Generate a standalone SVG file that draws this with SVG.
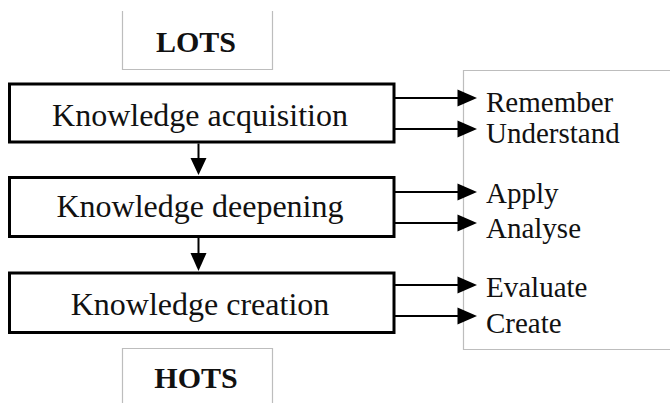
<svg xmlns="http://www.w3.org/2000/svg" width="670" height="403" viewBox="0 0 670 403" font-family="Liberation Serif, serif">
<style>
.frame{fill:none;stroke:#bdbdbd;stroke-width:1.2}
.box{fill:#fff;stroke:#000;stroke-width:3}
.conn{stroke:#000;stroke-width:2;fill:none}
</style>
<g id="lots">
<path class="frame" d="M122.5,11 V69.5 H272.5 V11"/>
<text x="196" y="52" style="font-family:'Liberation Serif',serif;font-size:30px;font-weight:bold;text-anchor:middle;fill:#111">LOTS</text>
</g>
<g id="hots">
<path class="frame" d="M122.5,403 V348.5 H272.5 V403"/>
<text x="196" y="388" style="font-family:'Liberation Serif',serif;font-size:30px;font-weight:bold;text-anchor:middle;fill:#111">HOTS</text>
</g>
<g id="levels">
<path class="frame" d="M670,70.5 H463.5 V349.5 H670"/>
<text x="486" y="112" style="font-family:'Liberation Serif',serif;font-size:29px;fill:#111">Remember</text>
<text x="486" y="143" style="font-family:'Liberation Serif',serif;font-size:29px;fill:#111">Understand</text>
<text x="486" y="203" style="font-family:'Liberation Serif',serif;font-size:29px;fill:#111">Apply</text>
<text x="486" y="238" style="font-family:'Liberation Serif',serif;font-size:29px;fill:#111">Analyse</text>
<text x="486" y="297" style="font-family:'Liberation Serif',serif;font-size:29px;fill:#111">Evaluate</text>
<text x="486" y="333" style="font-family:'Liberation Serif',serif;font-size:29px;fill:#111">Create</text>
</g>
<g id="acquisition">
<rect class="box" x="9.5" y="84" width="384.5" height="58"/>
<text x="200" y="126" style="font-family:'Liberation Serif',serif;font-size:32px;text-anchor:middle;fill:#111">Knowledge acquisition</text>
</g>
<g id="deepening">
<rect class="box" x="9.5" y="177.5" width="384.5" height="59"/>
<text x="200" y="217" style="font-family:'Liberation Serif',serif;font-size:32px;text-anchor:middle;fill:#111">Knowledge deepening</text>
</g>
<g id="creation">
<rect class="box" x="9.5" y="273" width="384.5" height="59.5"/>
<text x="200" y="315" style="font-family:'Liberation Serif',serif;font-size:32px;text-anchor:middle;fill:#111">Knowledge creation</text>
</g>
<g id="connectors">
<path class="conn" d="M198.5,143.5 V160"/>
<path d="M190.5,158 H206.5 L198.5,175 Z" fill="#000"/>
<path class="conn" d="M198.5,237 V255"/>
<path d="M190.5,253 H206.5 L198.5,271 Z" fill="#000"/>
<path class="conn" d="M395,98 H460"/><path d="M457.5,89.5 L477,98 L457.5,106.5 Z" fill="#000"/>
<path class="conn" d="M395,129 H460"/><path d="M457.5,120.5 L477,129 L457.5,137.5 Z" fill="#000"/>
<path class="conn" d="M395,192 H460"/><path d="M457.5,183.5 L477,192 L457.5,200.5 Z" fill="#000"/>
<path class="conn" d="M395,223 H460"/><path d="M457.5,214.5 L477,223 L457.5,231.5 Z" fill="#000"/>
<path class="conn" d="M395,285 H460"/><path d="M457.5,276.5 L477,285 L457.5,293.5 Z" fill="#000"/>
<path class="conn" d="M395,316 H460"/><path d="M457.5,307.5 L477,316 L457.5,324.5 Z" fill="#000"/>
</g>
</svg>
